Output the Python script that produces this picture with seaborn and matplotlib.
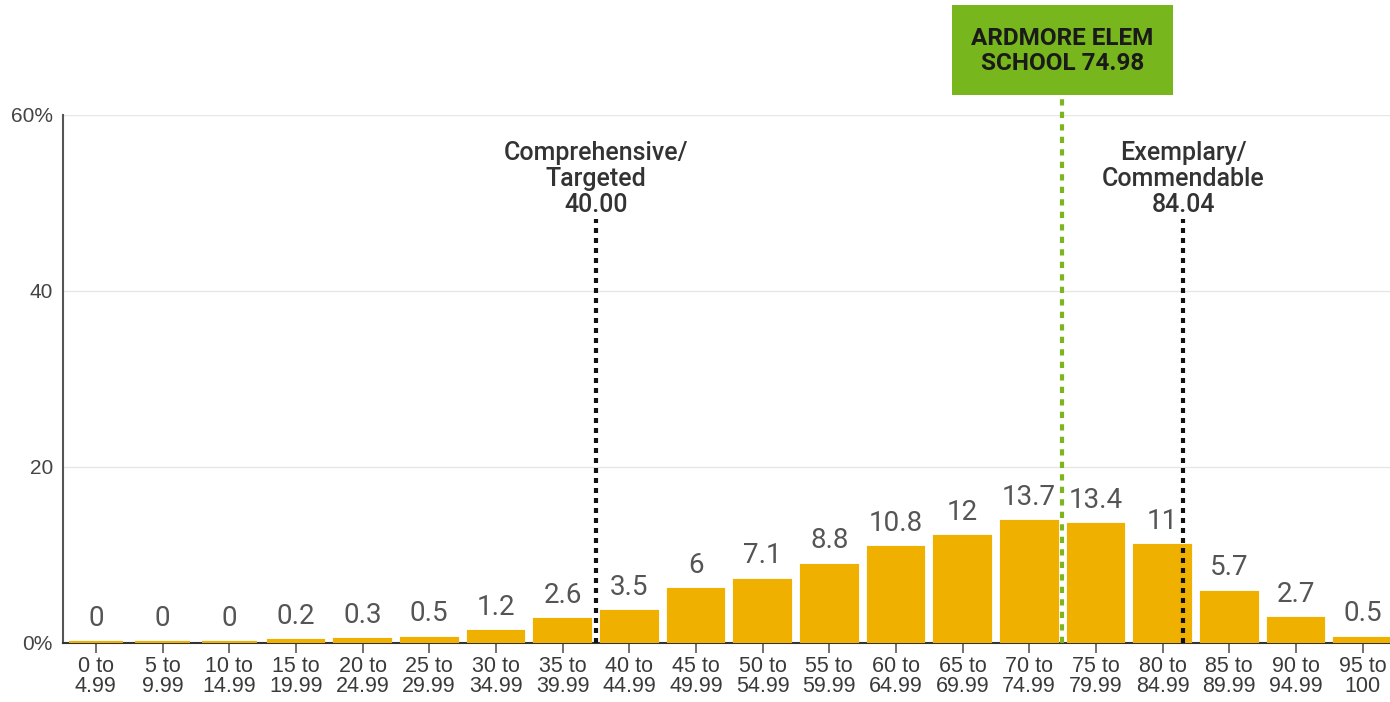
import matplotlib
matplotlib.use("Agg")
import matplotlib.pyplot as plt
import matplotlib.transforms as mtransforms
from matplotlib.patches import Rectangle
import seaborn as sns
import pandas as pd

categories = ["0 to\n4.99", "5 to\n9.99", "10 to\n14.99", "15 to\n19.99", "20 to\n24.99",
              "25 to\n29.99", "30 to\n34.99", "35 to\n39.99", "40 to\n44.99", "45 to\n49.99",
              "50 to\n54.99", "55 to\n59.99", "60 to\n64.99", "65 to\n69.99", "70 to\n74.99",
              "75 to\n79.99", "80 to\n84.99", "85 to\n89.99", "90 to\n94.99", "95 to\n100"]
values = [0, 0, 0, 0.2, 0.3, 0.5, 1.2, 2.6, 3.5, 6, 7.1, 8.8, 10.8, 12, 13.7, 13.4, 11, 5.7, 2.7, 0.5]
value_labels = ["0", "0", "0", "0.2", "0.3", "0.5", "1.2", "2.6", "3.5", "6", "7.1", "8.8",
                "10.8", "12", "13.7", "13.4", "11", "5.7", "2.7", "0.5"]
y_ticks = [0, 20, 40, 60]
y_tick_labels = ["0%", "20", "40", "60%"]
thresholds = [40.00, 84.04]
threshold_labels = ["Comprehensive/\nTargeted\n40.00", "Exemplary/\nCommendable\n84.04"]
school_score = 74.98
school_label = "ARDMORE ELEM\nSCHOOL 74.98"

sns.set_theme(style="white")
plt.rcParams['font.family'] = ['Roboto', 'DejaVu Sans']

df = pd.DataFrame({"cat": categories, "val": values})

fig = plt.figure(figsize=(13.9, 7.02), dpi=100)
ax_left_px, ax_w_px = 62.5, 1333.4
ax = fig.add_axes([ax_left_px/1390, 1 - 643/702, ax_w_px/1390, (643 - 115)/702])
px_per_cat = ax_w_px / len(categories)

bar_color = "#EFB000"
sns.barplot(data=df, x="cat", y="val", color=bar_color, saturation=1, width=0.82,
            ax=ax, edgecolor=bar_color, linewidth=3, zorder=3)

ax.set_xlim(-0.5, len(categories) - 0.5)
ax.set_ylim(0, 60)
ax.set_yticks(y_ticks)
ax.set_yticklabels(y_tick_labels, fontsize=15, color="#444444", family="Liberation Sans")
ax.set_xticks(range(len(categories)))
ax.set_xticklabels(categories, fontsize=15.5, color="#3a3a3a", family="Liberation Sans", linespacing=1.0)
ax.set_xlabel("")
ax.set_ylabel("")
ax.yaxis.grid(True, color="#e6e6e6", linewidth=1, zorder=0)
ax.set_axisbelow(True)
for s in ["top", "right"]:
    ax.spines[s].set_visible(False)
ax.spines["left"].set_color("#555555")
ax.spines["left"].set_linewidth(1.5)
ax.spines["bottom"].set_color("#333333")
ax.spines["bottom"].set_linewidth(1.5)
ax.tick_params(axis="x", length=7, width=1.3, color="#666666", bottom=True, pad=2)
ax.tick_params(axis="y", length=0, pad=7)

for i, (v, lab) in enumerate(zip(values, value_labels)):
    ax.text(i, v + 1.3, lab, ha="center", va="bottom", fontsize=20, color="#555555",
            fontweight="normal", zorder=4)

def score_to_x(s):
    return s / 5.0 - 0.5

for t, lab in zip(thresholds, threshold_labels):
    xp = score_to_x(t)
    ax.plot([xp, xp], [0, 48.2], color="#111111", linestyle=(0, (1.2, 1.2)), linewidth=3, zorder=4)
    ax.text(xp, 48.4, lab, ha="center", va="bottom", fontsize=18, color="#333333",
            fontweight="medium", linespacing=1.12, zorder=4)

xs = score_to_x(school_score)
ax.plot([xs, xs], [0, (643 - 95) / 8.8], color="#7DB51E", linestyle=(0, (1.5, 1.5)), linewidth=3,
        zorder=4, clip_on=False)

trans = mtransforms.blended_transform_factory(ax.transData, fig.transFigure)
box_w = 221 / px_per_cat
rect = Rectangle((xs - box_w / 2, 1 - 95 / 702), box_w, 90 / 702, transform=trans,
                 facecolor="#77B61C", edgecolor="none", clip_on=False, zorder=5)
ax.add_patch(rect)
ax.text(xs, 1 - 51 / 702, school_label, transform=trans, ha="center", va="center",
        fontsize=17.5, fontweight="bold", color="#1a1a1a", linespacing=1.08, zorder=6, clip_on=False)

fig.savefig("out.png", dpi=100)
